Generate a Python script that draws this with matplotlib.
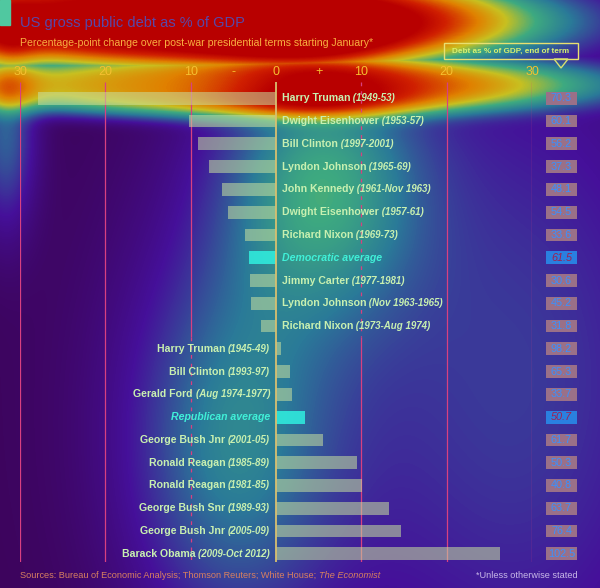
import matplotlib
matplotlib.use("Agg")
import matplotlib.pyplot as plt
from matplotlib.colors import LinearSegmentedColormap
from matplotlib.patches import Rectangle, Polygon
import numpy as np

# ---- data ----
names = ["Harry Truman", "Dwight Eisenhower", "Bill Clinton", "Lyndon Johnson",
         "John Kennedy", "Dwight Eisenhower", "Richard Nixon", "Democratic average",
         "Jimmy Carter", "Lyndon Johnson", "Richard Nixon", "Harry Truman",
         "Bill Clinton", "Gerald Ford", "Republican average", "George Bush Jnr",
         "Ronald Reagan", "Ronald Reagan", "George Bush Snr", "George Bush Jnr",
         "Barack Obama"]
terms = ["(1949-53)", "(1953-57)", "(1997-2001)", "(1965-69)", "(1961-Nov 1963)",
         "(1957-61)", "(1969-73)", "", "(1977-1981)", "(Nov 1963-1965)",
         "(1973-Aug 1974)", "(1945-49)", "(1993-97)", "(Aug 1974-1977)", "",
         "(2001-05)", "(1985-89)", "(1981-85)", "(1989-93)", "(2005-09)",
         "(2009-Oct 2012)"]
change = [-27.9, -10.2, -9.1, -7.8, -6.3, -5.6, -3.6, -3.2, -3.0, -2.9, -1.7,
          0.6, 1.6, 1.9, 3.4, 5.5, 9.5, 10.1, 13.3, 14.7, 26.2]
debt_end = ["70.3", "60.1", "56.2", "37.3", "48.1", "54.5", "33.6", "61.5",
            "30.6", "45.2", "31.8", "98.2", "65.3", "33.7", "50.7", "61.7",
            "50.3", "40.8", "63.7", "76.4", "102.5"]
tick_pos = [-30, -20, -10, -5, 0, 5, 10, 20, 30]
tick_labels = ["30", "20", "10", "-", "0", "+", "10", "20", "30"]

plt.rcParams["font.family"] = ["Liberation Sans", "DejaVu Sans"]

W, H = 600, 588
fig = plt.figure(figsize=(6, 5.88), dpi=100)

# ---- attention-style colour wash behind everything ----
yy, xx = np.mgrid[0:H, 0:W]
def blob(cx, cy, sx, sy, amp, p=1.0):
    d2 = ((xx - cx) / sx) ** 2 + ((yy - cy) / sy) ** 2
    return amp * np.exp(-(d2 / 2) ** p)

top = np.maximum(blob(190, 20, 250, 38, 1.0, 2), blob(250, 84, 250, 24, 0.7, 2))
heat = (top + blob(320, 180, 70, 95, 0.38) + blob(230, 445, 72, 135, 0.3)
        + blob(5, 130, 22, 70, 0.3) + blob(440, 380, 220, 260, 0.15)
        + blob(540, 380, 120, 320, 0.1) + 0.04)
heat = np.clip(heat, 0, 1)
cmap = LinearSegmentedColormap.from_list("wash", [
    (0.0, "#3a0046"), (0.2, "#45109a"), (0.4, "#2a7a98"), (0.55, "#3eaa80"),
    (0.68, "#c8c020"), (0.8, "#e08000"), (0.92, "#d02000"), (1.0, "#b80000")])
bg = fig.add_axes([0, 0, 1, 1], zorder=-5)
bg.imshow(heat, cmap=cmap, vmin=0, vmax=1, extent=(0, W, H, 0), aspect="auto")
bg.set_xlim(0, W)
bg.set_ylim(H, 0)
bg.axis("off")

label_col = "#c8f0b0"
avg_col = "#40f0d8"
grid_col = "#d84080"
name_fs = 7.6
term_fs = 7.0

# ---- main bar axes ----
ax = fig.add_axes([20 / W, 1 - 562 / H, 512 / W, 480 / H])
ax.patch.set_alpha(0)
ax.set_xlim(-30, 30)
ax.set_ylim(20.36, -0.716)
for s in ax.spines.values():
    s.set_visible(False)
ax.set_yticks([])
ax.xaxis.tick_top()
ax.set_xticks(tick_pos)
ax.set_xticklabels(tick_labels, fontsize=9, color="#f5c030")
ax.tick_params(axis="x", length=0, pad=3)

rows = np.arange(len(names))
is_avg = ["average" in n for n in names]
split = 10.5
for x in [-30, -20, -10, 10, 20, 30]:
    if x == 10:
        ax.vlines(x, -0.716, split, color=grid_col, lw=0.9, linestyles=(0, (3, 4)), zorder=0)
        ax.vlines(x, split, 20.36, color=grid_col, lw=0.9, zorder=0)
    elif x == -10:
        ax.vlines(x, -0.716, split, color=grid_col, lw=0.9, zorder=0)
        ax.vlines(x, split, 20.36, color=grid_col, lw=0.9, linestyles=(0, (3, 4)), zorder=0)
    else:
        ax.vlines(x, -0.716, 20.36, color=grid_col, lw=0.9, zorder=0)

bar_cols = ["#30f0e0" if a else "#c8e0a0" for a in is_avg]
bar_alpha = [0.85 if a else 0.55 for a in is_avg]
bars = ax.barh(rows, change, height=0.56, color=bar_cols, zorder=2)
for b, a in zip(bars, bar_alpha):
    b.set_alpha(a)
ax.axvline(0, color="#d8c070", lw=1.3, zorder=3)

for i, (n, t, c) in enumerate(zip(names, terms, change)):
    avg = is_avg[i]
    col = avg_col if avg else label_col
    sty = "italic" if avg else "normal"
    if c < 0:
        t1 = ax.text(0.7, i, n, ha="left", va="center", fontsize=name_fs,
                     fontweight="bold", style=sty, color=col, zorder=4)
        if t:
            ax.annotate(" " + t, xy=(1, 0), xycoords=t1, ha="left", va="bottom",
                        fontsize=term_fs, style="italic", fontweight="bold",
                        color=col, zorder=4)
    else:
        if t:
            t2 = ax.text(-0.7, i, t, ha="right", va="center", fontsize=term_fs,
                         style="italic", fontweight="bold", color=col, zorder=4)
            ax.annotate(n + " ", xy=(0, 0), xycoords=t2, ha="right", va="bottom",
                        fontsize=name_fs, fontweight="bold", style=sty, color=col,
                        zorder=4)
        else:
            ax.text(-0.7, i, n, ha="right", va="center", fontsize=name_fs,
                    fontweight="bold", style=sty, color=col, zorder=4)

# debt at end of term boxes
box_cols = ["#2a80e0" if a else "#9a7088" for a in is_avg]
ax.barh(rows, 3.6, left=31.66, height=0.56, color=box_cols, clip_on=False, zorder=2)
for i, v in enumerate(debt_end):
    ax.text(33.46, i, v, ha="center", va="center", fontsize=7.8,
            color="#a02050" if is_avg[i] else "#3a90ff",
            style="italic" if is_avg[i] else "normal", clip_on=False, zorder=4)

# ---- titles and notes ----
fig.add_artist(Rectangle((0, 1 - 25 / H), 10 / W, 25 / H, transform=fig.transFigure,
                         color="#50c8a0", zorder=5))
fig.text(20 / W, 1 - 27 / H, "US gross public debt as % of GDP", fontsize=10.5,
         color="#5848a8", va="baseline")
fig.text(20 / W, 1 - 46 / H,
         "Percentage-point change over post-war presidential terms starting January*",
         fontsize=7.6, color="#f8b040", va="baseline")

fig.add_artist(Rectangle((444 / W, 1 - 59 / H), 134 / W, 16 / H, transform=fig.transFigure,
                         fill=False, ec="#e8e070", lw=1, zorder=5))
fig.add_artist(Polygon([(554 / W, 1 - 59 / H), (568 / W, 1 - 59 / H), (561 / W, 1 - 68 / H)],
                       closed=True, transform=fig.transFigure, fc="none", ec="#d8e070",
                       lw=1, zorder=5))
fig.text(511 / W, 1 - 51 / H, "Debt as % of GDP, end of term", fontsize=5.9,
         fontweight="bold", color="#d8f070", ha="center", va="center")

src = fig.text(20 / W, 1 - 576 / H,
               "Sources: Bureau of Economic Analysis; Thomson Reuters; White House; ",
               fontsize=6.6, color="#d88060", va="center")
fig.text(578 / W, 1 - 576 / H, "*Unless otherwise stated", fontsize=6.6,
         color="#c8b8e8", ha="right", va="center")
ax.annotate("The Economist", xy=(1, 0), xycoords=src, ha="left", va="bottom",
            fontsize=6.6, style="italic", color="#d88060", annotation_clip=False)

fig.savefig("out.png", dpi=100)
